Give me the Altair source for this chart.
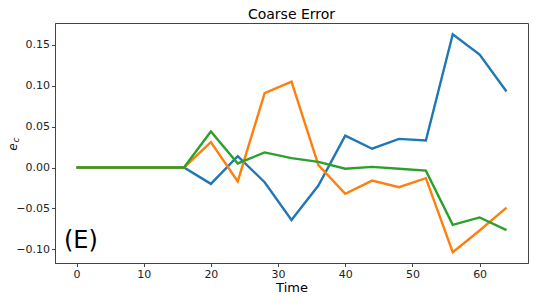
import altair as alt
import pandas as pd

times = [0, 4, 8, 12, 16, 20, 24, 28, 32, 36, 40, 44, 48, 52, 56, 60, 64]
blue = [0, 0, 0, 0, 0, -0.020, 0.014, -0.018, -0.064, -0.022, 0.039, 0.023, 0.035, 0.033, 0.163, 0.138, 0.093]
orange = [0, 0, 0, 0, 0, 0.031, -0.017, 0.091, 0.105, 0.003, -0.032, -0.016, -0.024, -0.013, -0.1035, -0.077, -0.049]
green = [0, 0, 0, 0, 0, 0.044, 0.005, 0.0185, 0.0115, 0.007, -0.0015, 0.0008, -0.0015, -0.0038, -0.070, -0.061, -0.0766]
series_names = ["s1", "s2", "s3"]
colors = ["#1f77b4", "#ff7f0e", "#2ca02c"]

rows = []
for name, vals in zip(series_names, [blue, orange, green]):
    for t, v in zip(times, vals):
        rows.append({"Time": t, "value": v, "series": name})
df = pd.DataFrame(rows)

FONT = "DejaVu Sans"
W, H = 473, 240

lines = alt.Chart(df).mark_line(strokeWidth=2.4, clip=True).encode(
    x=alt.X("Time:Q", scale=alt.Scale(domain=[-3.2, 67.2], nice=False, zero=False),
            axis=alt.Axis(values=[0, 10, 20, 30, 40, 50, 60], title="Time", grid=False,
                          tickSize=3.5, labelFontSize=11, titleFontSize=13, titlePadding=2,
                          labelPadding=1.5, titleFontWeight="normal", labelColor="#222",
                          titleColor="#000", domainColor="#444", tickColor="#444")),
    y=alt.Y("value:Q", scale=alt.Scale(domain=[-0.1167, 0.1767], nice=False, zero=False),
            axis=alt.Axis(values=[-0.10, -0.05, 0.0, 0.05, 0.10, 0.15], format=".2f", title=None,
                          grid=False, tickSize=3.5, labelFontSize=11, labelPadding=2,
                          labelColor="#222", domainColor="#444", tickColor="#444")),
    color=alt.Color("series:N", scale=alt.Scale(domain=series_names, range=colors), legend=None),
)

e_label = alt.Chart(pd.DataFrame({"t": ["e"]})).mark_text(
    font=FONT, fontSize=12, fontStyle="italic", angle=270, align="center", baseline="middle", color="#111"
).encode(x=alt.value(-42), y=alt.value(124), text="t:N")
c_label = alt.Chart(pd.DataFrame({"t": ["c"]})).mark_text(
    font=FONT, fontSize=9, fontStyle="italic", angle=270, align="center", baseline="middle", color="#111"
).encode(x=alt.value(-39), y=alt.value(117), text="t:N")

panel = alt.Chart(pd.DataFrame({"t": ["(E)"]})).mark_text(
    font=FONT, fontSize=24, align="left", baseline="alphabetic", color="#000"
).encode(x=alt.value(9), y=alt.value(225), text="t:N")

chart = alt.layer(lines, e_label, c_label, panel).properties(
    width=W, height=H,
    title=alt.TitleParams("Coarse Error", fontSize=14, font=FONT, fontWeight="normal",
                          anchor="middle", offset=1, color="#000"),
    autosize=alt.AutoSizeParams(type="none"),
    padding={"left": 47, "top": 15, "right": 1, "bottom": 31},
).configure(font=FONT).configure_view(stroke="#444", strokeWidth=1).configure_axis(
    labelFont=FONT, titleFont=FONT
)

chart.save("out.html", embed_options={"renderer": "svg", "actions": False})
